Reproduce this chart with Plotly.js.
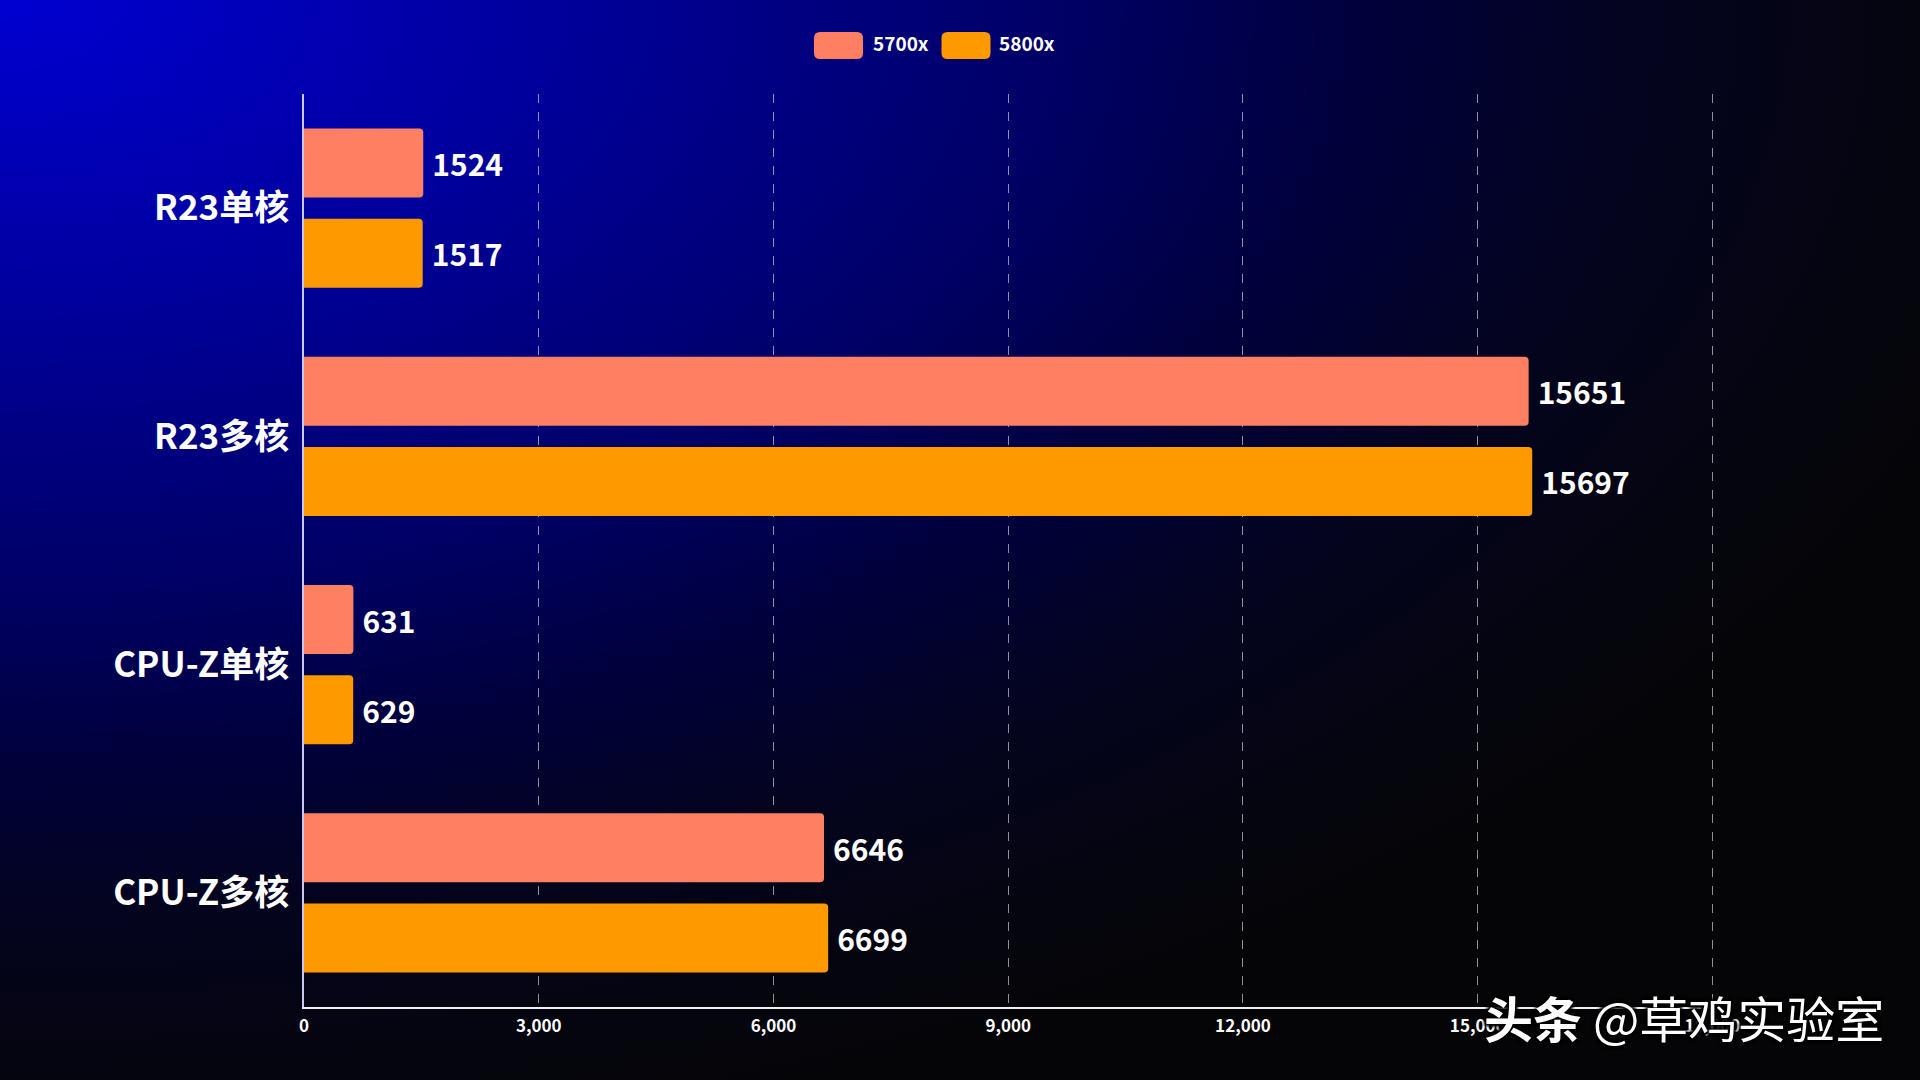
<!DOCTYPE html>
<html>
<head>
<meta charset="utf-8">
<script src="https://cdn.plot.ly/plotly-3.0.1.min.js"></script>
<style>
  html, body { margin: 0; padding: 0; background: #050508; }
  #chart {
    width: 1920px; height: 1080px;
    background: radial-gradient(ellipse 2100px 1170px at 0 0,
      #0000d2 0%, #00009a 27%, #000064 51%, #00003e 64%, #04041f 78%, #05050f 92%, #050508 100%);
  }
</style>
</head>
<body>
<div id="chart"></div>
<script>
// ---- data ----
const categories = ['R23单核', 'R23多核', 'CPU-Z单核', 'CPU-Z多核'];
const seriesNames = ['5700x', '5800x'];
const values5700x = [1524, 15651, 631, 6646];
const values5800x = [1517, 15697, 629, 6699];
const xTickVals = [0, 3000, 6000, 9000, 12000, 15000, 18000];
const xTickText = ['0', '3,000', '6,000', '9,000', '12,000', '15,000', '18,000'];
const watermark = '<b>头条</b> @草鸡实验室';

// ---- style ----
const colors = ['#ff7f62', '#ff9900'];
const FONT = '"Noto Sans CJK SC", "Noto Sans", sans-serif';
const M = { l: 304, r: 206, t: 94, b: 73 };
const W = 1920, H = 1080;
const PW = W - M.l - M.r, PH = H - M.t - M.b;
const px2x = p => (p - M.l) / PW;
const py2y = p => (H - M.b - p) / PH;

const seriesValues = [values5700x, values5800x];
const traces = seriesNames.map((name, i) => ({
  type: 'bar',
  orientation: 'h',
  name: name,
  y: categories,
  x: seriesValues[i],
  marker: { color: colors[i], cornerradius: 4, line: { width: 0 } },
  text: seriesValues[i].map(v => '\u2009' + v),
  textposition: 'outside',
  cliponaxis: false,
  textfont: { family: FONT, size: 30, color: '#ffffff', weight: 'bold' },
  hoverinfo: 'x+name'
}));

// custom legend (rounded swatches + labels)
const legendItems = [
  { swatchX: 838.5, textX: 871 },
  { swatchX: 966, textX: 997 }
];
const legendY = 45.5;
const sw = 49, sh = 27, rr = 6;
const rrPath = (w, h, r) => {
  const x0 = -w / 2, x1 = w / 2, y0 = -h / 2, y1 = h / 2;
  return `M${x0 + r},${y0} L${x1 - r},${y0} Q${x1},${y0} ${x1},${y0 + r} L${x1},${y1 - r} Q${x1},${y1} ${x1 - r},${y1} L${x0 + r},${y1} Q${x0},${y1} ${x0},${y1 - r} L${x0},${y0 + r} Q${x0},${y0} ${x0 + r},${y0} Z`;
};
const shapes = legendItems.map((it, i) => ({
  type: 'path',
  xref: 'paper', yref: 'paper',
  xsizemode: 'pixel', ysizemode: 'pixel',
  xanchor: px2x(it.swatchX), yanchor: py2y(legendY),
  path: rrPath(sw, sh, rr),
  fillcolor: colors[i],
  line: { width: 0 },
  layer: 'above'
}));
const annotations = legendItems.map((it, i) => ({
  xref: 'paper', yref: 'paper',
  x: px2x(it.textX), y: py2y(legendY - 3),
  xanchor: 'left', yanchor: 'middle',
  text: '<b>' + seriesNames[i] + '</b>',
  showarrow: false,
  font: { family: FONT, size: 19, color: '#ffffff' }
}));
annotations.push({
  xref: 'paper', yref: 'paper',
  x: px2x(1886), y: py2y(1016),
  xanchor: 'right', yanchor: 'middle',
  text: watermark,
  showarrow: false,
  font: { family: FONT, size: 49, color: '#ffffff',
          shadow: '2px 2px 3px #000, -2px -2px 3px #000, 2px -2px 3px #000, -2px 2px 3px #000' }
});

const layout = {
  width: W, height: H,
  margin: M,
  paper_bgcolor: 'rgba(0,0,0,0)',
  plot_bgcolor: 'rgba(0,0,0,0)',
  barmode: 'group',
  bargap: 0.21,
  bargroupgap: 0.233,
  showlegend: false,
  xaxis: {
    range: [0, 18020],
    tickvals: xTickVals,
    ticktext: xTickText,
    showgrid: true,
    gridcolor: 'rgba(190,190,200,0.75)',
    gridwidth: 1,
    griddash: 'dash',
    zeroline: false,
    showline: true,
    linecolor: '#f0f0f0',
    linewidth: 2,
    ticks: '',
    ticklabelstandoff: 3,
    tickfont: { family: FONT, size: 17, color: '#ffffff', weight: 'bold' },
    fixedrange: true
  },
  yaxis: {
    autorange: 'reversed',
    showgrid: false,
    zeroline: false,
    showline: true,
    linecolor: '#c8c8f0',
    linewidth: 1.5,
    ticks: '',
    ticklabelstandoff: 6,
    tickfont: { family: FONT, size: 35, color: '#ffffff', weight: 'bold' },
    fixedrange: true
  },
  shapes: shapes,
  annotations: annotations
};

Plotly.newPlot('chart', traces, layout, { displayModeBar: false, responsive: false });
</script>
</body>
</html>
